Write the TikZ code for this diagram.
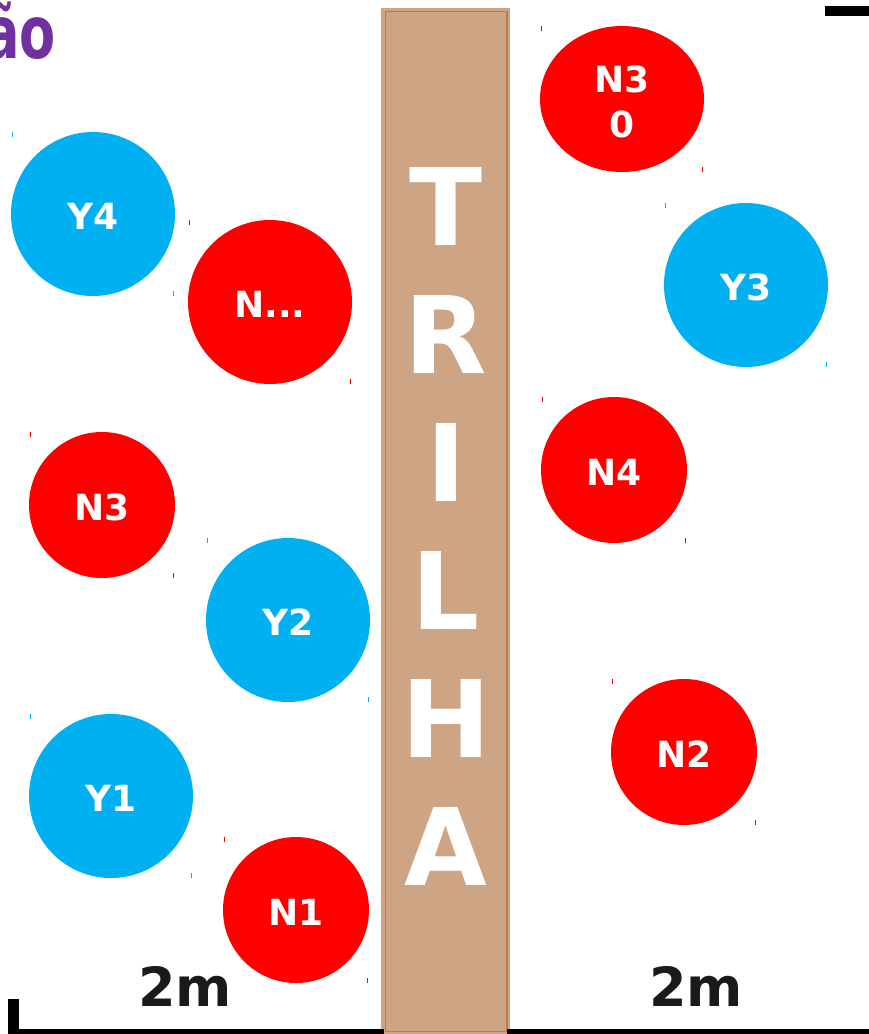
\documentclass[tikz,border=0pt]{standalone}
\usepackage{fontspec}
\setmainfont{DejaVu Sans}
\usetikzlibrary{shapes.geometric}
\definecolor{treered}{HTML}{FF0000}
\definecolor{treeblue}{HTML}{00B0F0}
\definecolor{trailfill}{HTML}{CDA585}
\definecolor{trailedge}{HTML}{B97E4C}
\definecolor{titlepurple}{HTML}{7030A0}
\definecolor{darktext}{HTML}{1A1A1A}
\tikzset{
  tree/.style={ellipse, inner sep=0pt, draw=none},
  redtree/.style={tree, minimum width=146pt, minimum height=146pt, fill=treered},
  bluetree/.style={tree, minimum width=164pt, minimum height=164pt, fill=treeblue},
  bigredtree/.style={tree, minimum width=164pt, minimum height=164pt, fill=treered},
  wideredtree/.style={tree, minimum width=164pt, minimum height=146pt, fill=treered},
  treelabel/.style={text=white, font=\bfseries\fontsize{36}{45}\selectfont, inner sep=0pt, align=center},
  trailletter/.style={text=white, font=\bfseries\fontsize{107}{107}\selectfont, inner sep=0pt, anchor=base},
  dist/.style={text=darktext, font=\bfseries\fontsize{54}{54}\selectfont, inner sep=0pt, anchor=base},
  tick/.style={line width=0.8pt},
  scalebar/.style={line width=5pt, black},
}
% #1 name, #2 x, #3 y, #4 style, #5 colour, #6 label, #7 label y-shift
\newcommand\mytree[7]{%
  \node[#4] (#1) at (#2,#3) {};
  \draw[tick, #5] ([xshift=2pt]#1.west |- #1.north) -- ++(0,5);
  \draw[tick, #5] ([xshift=-2pt]#1.east |- #1.south) -- ++(0,-5);
  \node[treelabel] (#1-label) at (#2,#3+#7) {#6};
}
\begin{document}
\begin{tikzpicture}[x=1pt,y=-1pt]
\useasboundingbox (0,0) rectangle (869,1034);
% trail
\fill[trailfill] (381,8) rectangle (510,1034);
\draw[trailedge, line width=1.5pt] (385.5,11.5) rectangle (507,1031.5);
\node[trailletter] (t1) at (446,245) {T};
\node[trailletter] (t2) at (446,373) {R};
\node[trailletter] (t3) at (446,501) {I};
\node[trailletter] (t4) at (446,629) {L};
\node[trailletter] (t5) at (446,757) {H};
\node[trailletter] (t6) at (446,885) {A};
% title fragment
\node[text=titlepurple, font=\bfseries\fontsize{73}{73}\selectfont, inner sep=0pt, anchor=base east, xscale=0.72] (title) at (56,58) {ão};
% top right bar
\fill[black] (825,6) rectangle (869,16);
% trees
\mytree{n30}{622}{99}{wideredtree}{treered}{N3\\0}{3}
\mytree{y4}{93}{214}{bluetree}{treeblue}{Y4}{2}
\mytree{ndots}{270}{302}{bigredtree}{treered}{N...}{2}
\mytree{y3}{746}{285}{bluetree}{treeblue}{Y3}{2}
\mytree{n4}{614}{470}{redtree}{treered}{N4}{2}
\mytree{n3}{102}{505}{redtree}{treered}{N3}{2}
\mytree{y2}{288}{620}{bluetree}{treeblue}{Y2}{2}
\mytree{n2}{684}{752}{redtree}{treered}{N2}{2}
\mytree{y1}{111}{796}{bluetree}{treeblue}{Y1}{2}
\mytree{n1}{296}{910}{redtree}{treered}{N1}{2}
% distances
\node[dist] (dleft) at (185,1006) {2m};
\node[dist] (dright) at (696,1006) {2m};
% scale bars
\coordinate (sbl) at (8,1031.5);
\coordinate (sbm) at (384,1031.5);
\coordinate (sbr0) at (507,1031.5);
\coordinate (sbr) at (869,1031.5);
\draw[scalebar] (sbl) -- (sbm);
\draw[scalebar] (sbr0) -- (sbr);
\fill[black] (8,999) rectangle (19,1034);
\end{tikzpicture}
\end{document}
